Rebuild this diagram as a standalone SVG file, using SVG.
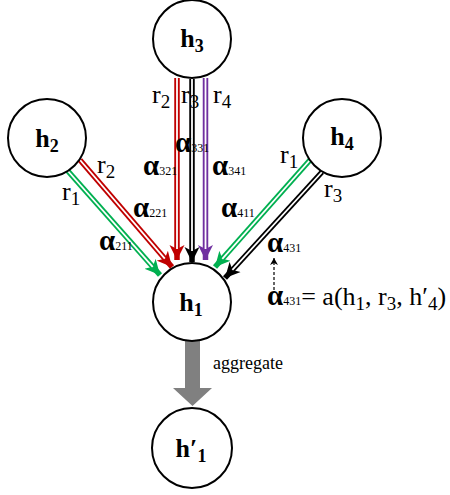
<svg xmlns="http://www.w3.org/2000/svg" width="450" height="495" viewBox="0 0 450 495">
<style>
.node{fill:#fff;stroke:#000;stroke-width:2}
.lbl{font-family:"Liberation Serif","Times New Roman",serif;font-weight:bold;font-size:26px;fill:#000}
.sub{font-size:18px}
.r{font-family:"Liberation Serif","Times New Roman",serif;font-size:26px;fill:#000}
.rs{font-size:19px}
.a{font-family:"Liberation Serif","Times New Roman",serif;font-size:29px;font-weight:bold;fill:#000}
.as{font-size:12px;font-weight:normal}
.in{stroke:#fff;stroke-width:1.8;fill:none}
.red{stroke:#C00000;stroke-width:5.5;fill:none}
.grn{stroke:#00B050;stroke-width:5.5;fill:none}
.blk{stroke:#000;stroke-width:5.5;fill:none}
.pur{stroke:#7030A0;stroke-width:5.5;fill:none}
</style>
<defs>
<marker id="mr" markerUnits="userSpaceOnUse" markerWidth="16" markerHeight="16" refX="15" refY="8" orient="auto"><path d="M0,0.5 L15,8 L0,15.5 L4,8 z" fill="#C00000"/></marker>
<marker id="mg" markerUnits="userSpaceOnUse" markerWidth="16" markerHeight="16" refX="15" refY="8" orient="auto"><path d="M0,0.5 L15,8 L0,15.5 L4,8 z" fill="#00B050"/></marker>
<marker id="mb" markerUnits="userSpaceOnUse" markerWidth="16" markerHeight="16" refX="15" refY="8" orient="auto"><path d="M0,0.5 L15,8 L0,15.5 L4,8 z" fill="#000"/></marker>
<marker id="mp" markerUnits="userSpaceOnUse" markerWidth="16" markerHeight="16" refX="15" refY="8" orient="auto"><path d="M0,0.5 L15,8 L0,15.5 L4,8 z" fill="#7030A0"/></marker>
<marker id="md" markerUnits="userSpaceOnUse" markerWidth="8" markerHeight="8" refX="7" refY="4" orient="auto"><path d="M0,0 L7,4 L0,8 L2,4 z" fill="#000"/></marker>
</defs>
<g id="connectors">
<line class="red" x1="177" y1="78" x2="177" y2="260" marker-end="url(#mr)"/>
<line class="in" x1="177" y1="78" x2="177" y2="249"/>
<line class="blk" x1="192" y1="79" x2="192" y2="262" marker-end="url(#mb)"/>
<line class="in" x1="192" y1="79" x2="192" y2="251"/>
<line class="pur" x1="205.5" y1="78" x2="205.5" y2="260" marker-end="url(#mp)"/>
<line class="in" x1="205.5" y1="78" x2="205.5" y2="249"/>
<line class="grn" x1="67" y1="170" x2="160" y2="275" marker-end="url(#mg)"/>
<line class="in" x1="67" y1="170" x2="152.7" y2="266.8"/>
<line class="red" x1="80" y1="160" x2="172" y2="267" marker-end="url(#mr)"/>
<line class="in" x1="80" y1="160" x2="164.8" y2="258.7"/>
<line class="grn" x1="310" y1="160" x2="215" y2="267" marker-end="url(#mg)"/>
<line class="in" x1="310" y1="160" x2="222.3" y2="258.8"/>
<line class="blk" x1="322" y1="172" x2="225" y2="278" marker-end="url(#mb)"/>
<line class="in" x1="322" y1="172" x2="232.4" y2="269.9"/>
<line x1="274" y1="290" x2="274" y2="258" stroke="#000" stroke-width="1.2" stroke-dasharray="3,2" marker-end="url(#md)"/>
<polygon points="185,341 200,341 200,388 212,388 192.5,406 173,388 185,388" fill="#808080"/>
</g>
<g id="h3"><circle class="node" cx="192" cy="39" r="39"/><text class="lbl" x="192" y="47" text-anchor="middle">h<tspan class="sub" dy="5">3</tspan></text></g>
<g id="h2"><circle class="node" cx="47" cy="138" r="39"/><text class="lbl" x="47" y="147" text-anchor="middle">h<tspan class="sub" dy="5">2</tspan></text></g>
<g id="h4"><circle class="node" cx="342" cy="138" r="39"/><text class="lbl" x="342" y="145" text-anchor="middle">h<tspan class="sub" dy="5">4</tspan></text></g>
<g id="h1"><circle class="node" cx="192" cy="302" r="39"/><text class="lbl" x="191" y="311" text-anchor="middle">h<tspan class="sub" dy="5">1</tspan></text></g>
<g id="h1p"><circle class="node" cx="192" cy="448" r="40"/><text class="lbl" x="191" y="457" text-anchor="middle">h′<tspan class="sub" dy="5">1</tspan></text></g>
<g id="labels">
<text class="r" x="152" y="103">r<tspan class="rs" dy="5">2</tspan></text>
<text class="r" x="181" y="103">r<tspan class="rs" dy="5">3</tspan></text>
<text class="r" x="213" y="103">r<tspan class="rs" dy="5">4</tspan></text>
<text class="r" x="97" y="173">r<tspan class="rs" dy="5">2</tspan></text>
<text class="r" x="62" y="200">r<tspan class="rs" dy="5">1</tspan></text>
<text class="r" x="280" y="163">r<tspan class="rs" dy="5">1</tspan></text>
<text class="r" x="324" y="197">r<tspan class="rs" dy="5">3</tspan></text>
<text class="a" x="175" y="152">α<tspan class="as">331</tspan></text>
<text class="a" x="143" y="175">α<tspan class="as">321</tspan></text>
<text class="a" x="212" y="175">α<tspan class="as">341</tspan></text>
<text class="a" x="133" y="217">α<tspan class="as">221</tspan></text>
<text class="a" x="99" y="250">α<tspan class="as">211</tspan></text>
<text class="a" x="221" y="217">α<tspan class="as">411</tspan></text>
<text class="a" x="267" y="252">α<tspan class="as">431</tspan></text>
<text class="a" x="267" y="305">α<tspan class="as">431</tspan><tspan class="r" font-weight="normal">= a(h<tspan class="rs" dy="5">1</tspan><tspan dy="-5">, r</tspan><tspan class="rs" dy="5">3</tspan><tspan dy="-5">, h′</tspan><tspan class="rs" dy="5">4</tspan><tspan dy="-5">)</tspan></tspan></text>
<text x="213" y="369" font-family="Liberation Serif, Times New Roman, serif" font-size="18" fill="#000">aggregate</text>
</g>
</svg>
